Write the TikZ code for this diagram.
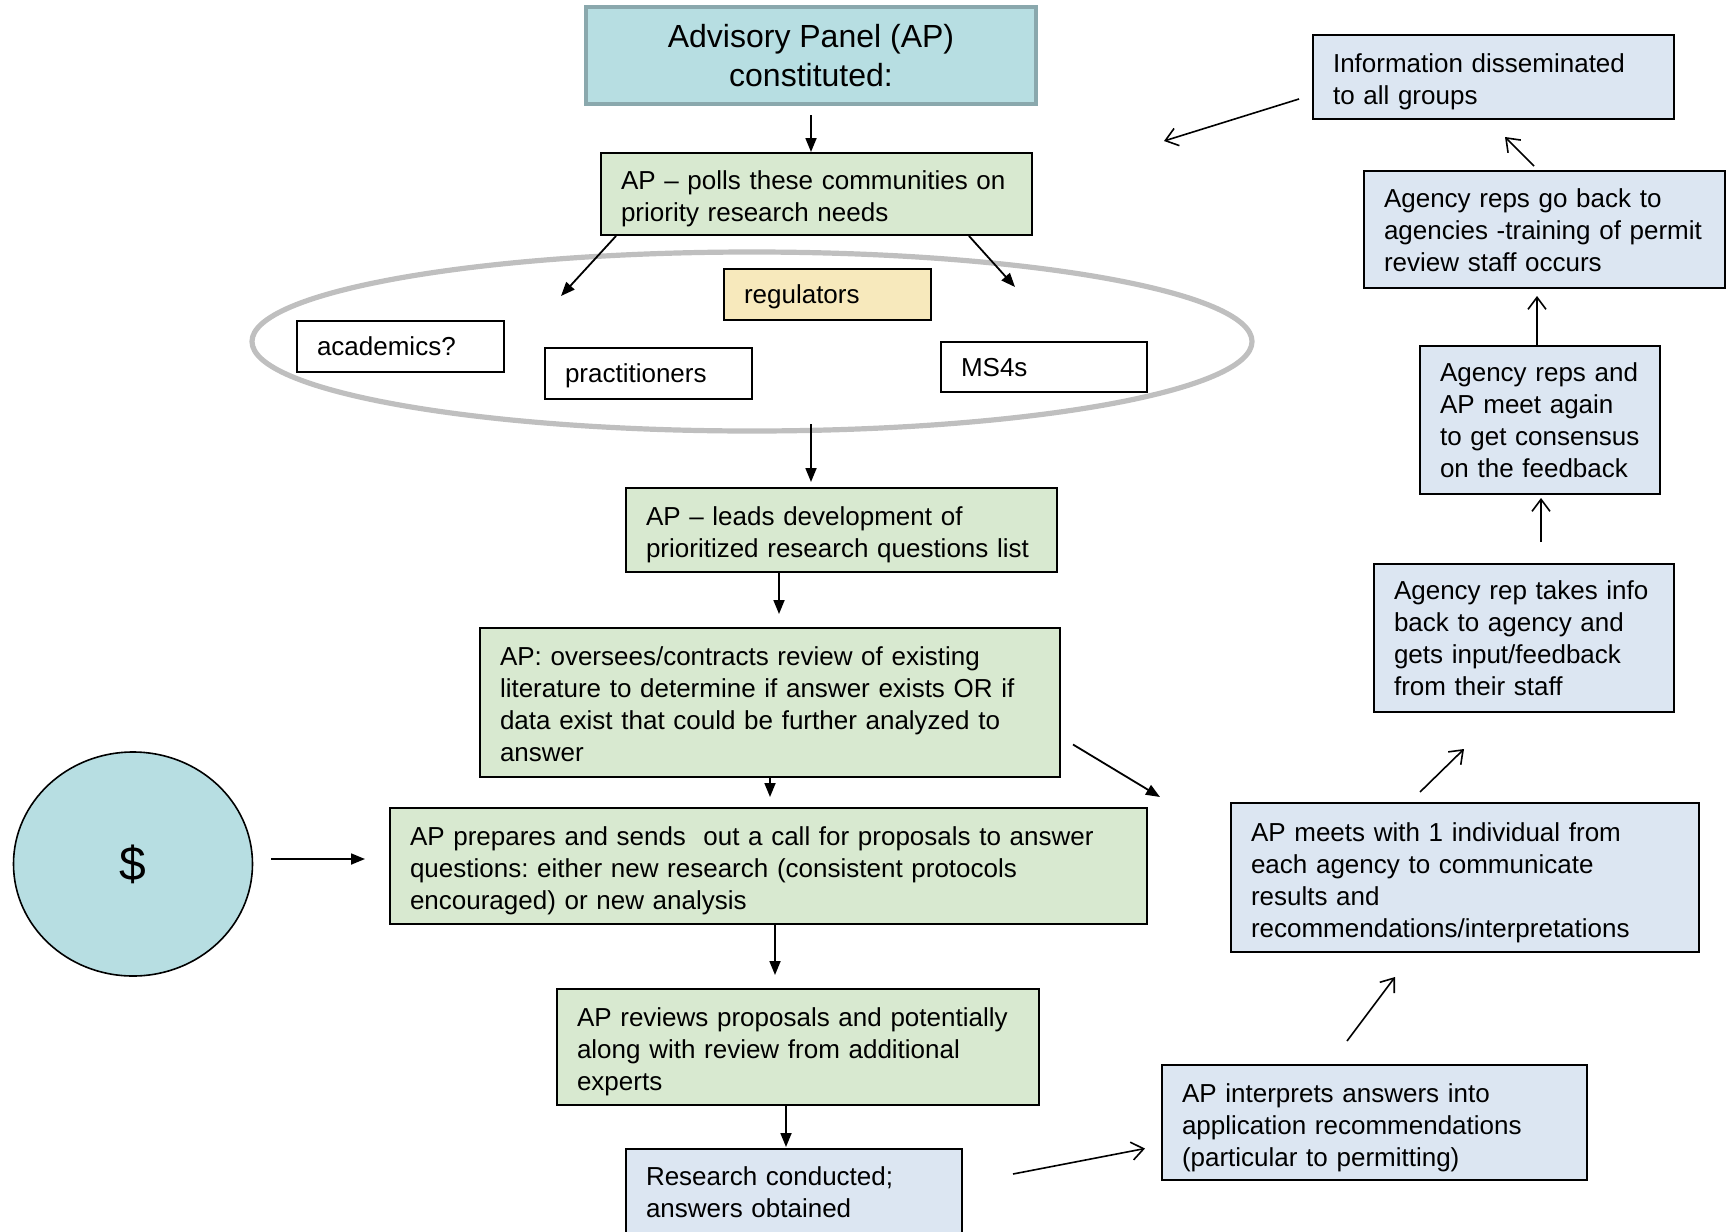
\documentclass[tikz,border=0pt]{standalone}
\usepackage{fontspec}
\setmainfont{Liberation Sans}
\usetikzlibrary{arrows.meta,shapes.geometric}
\definecolor{apfill}{RGB}{183,222,226}
\definecolor{apdraw}{RGB}{138,168,173}
\definecolor{gfill}{RGB}{216,233,208}
\definecolor{bfill}{RGB}{220,230,242}
\definecolor{yfill}{RGB}{247,233,188}
\definecolor{ellgray}{RGB}{191,191,191}
\frenchspacing
\begin{document}
\begin{tikzpicture}[x=0.5pt,y=-0.5pt,
  every node/.style={font=\fontsize{13}{16}\selectfont},
  box/.style={draw=black, line width=1pt, align=left, inner xsep=10pt, inner ysep=0pt},
  sh/.style={execute at end node={\vspace{#1}}},
  sh/.default=-5pt,
  gbox/.style={box, fill=gfill},
  bbox/.style={box, fill=bfill},
  wbox/.style={box, fill=white},
  fa/.style={-{Triangle[length=7pt,width=5.5pt]}, line width=0.9pt},
  oa/.style={-{Straight Barb[length=6pt,width=9pt]}, line width=0.8pt},
]
\useasboundingbox (0,0) rectangle (1733,1231);

% title
\node[draw=apdraw, fill=apfill, line width=2.2pt, minimum width=225pt, minimum height=48.5pt,
      align=center, font=\fontsize{16}{19.5}\selectfont] (ap) at (811,55.5) {Advisory Panel (AP)\\constituted:};

\node[gbox, sh, minimum width=215.5pt, minimum height=41pt, text width=195.5pt] (polls) at (816.5,194)
  {AP – polls these communities on\\priority research needs};

% group ellipse
\node[ellipse, draw=ellgray, line width=2.6pt, minimum width=500pt, minimum height=89.5pt, inner sep=0pt] (grp) at (752,341.5) {};
\node[box, sh=-7.2pt, fill=yfill, minimum width=103.5pt, minimum height=25.5pt, text width=83.5pt] (reg) at (827.5,294.5) {regulators};
\node[wbox, sh, minimum width=103.5pt, minimum height=25.5pt, text width=83.5pt] (acad) at (400.5,346.5) {academics?};
\node[wbox, sh, minimum width=103.5pt, minimum height=25.5pt, text width=83.5pt] (prac) at (648.5,373.5) {practitioners};
\node[wbox, sh, minimum width=103pt, minimum height=25pt, text width=83pt] (ms4) at (1044,367) {MS4s};

% left column
\node[gbox, sh, minimum width=215.5pt, minimum height=42pt, text width=195.5pt] (leads) at (841.5,530)
  {AP – leads development of\\prioritized research questions list};
\node[gbox, sh=-1.7pt, minimum width=290pt, minimum height=74.5pt, text width=270pt] (over) at (770,702.5)
  {AP: oversees/contracts review of existing\\literature to determine if answer exists OR if\\data exist that could be further analyzed to\\answer};
\node[gbox, sh, minimum width=378.5pt, minimum height=58pt, text width=358.5pt] (prep) at (768.5,866)
  {AP prepares and sends~ out a call for proposals to answer\\questions: either new research (consistent protocols\\encouraged) or new analysis};
\node[gbox, sh, minimum width=241pt, minimum height=58pt, text width=221pt] (rev) at (798,1047)
  {AP reviews proposals and potentially\\along with review from additional\\experts};
\node[bbox, sh=-0.6pt, minimum width=168pt, minimum height=43pt, text width=148pt] (res) at (794,1192)
  {Research conducted;\\answers obtained};

\node[ellipse, draw=black, fill=apfill, line width=0.8pt, minimum width=119.5pt, minimum height=112pt,
      font=\fontsize{24}{28}\selectfont] (money) at (133,864) {\$};

% right column
\node[bbox, sh, minimum width=212.5pt, minimum height=57.5pt, text width=192.5pt] (interp) at (1374.5,1122.5)
  {AP interprets answers into\\application recommendations\\(particular to permitting)};
\node[bbox, sh, minimum width=234pt, minimum height=74.5pt, text width=214pt] (meets) at (1465,877.5)
  {AP meets with 1 individual from\\each agency to communicate\\results and\\recommendations/interpretations};
\node[bbox, sh=-0.6pt, minimum width=150pt, minimum height=74pt, text width=130pt] (takes) at (1524,638)
  {Agency rep takes info\\back to agency and\\gets input/feedback\\from their staff};
\node[bbox, sh=-0.6pt, minimum width=120pt, minimum height=74pt, text width=100pt] (again) at (1540,420)
  {Agency reps and\\AP meet again\\to get consensus\\on the feedback};
\node[bbox, sh=-0.6pt, minimum width=180.5pt, minimum height=58.5pt, text width=160.5pt] (reps) at (1544.5,229.5)
  {Agency reps go back to\\agencies -training of permit\\review staff occurs};
\node[bbox, sh, minimum width=180.5pt, minimum height=42pt, text width=160.5pt] (info) at (1493.5,77)
  {Information disseminated\\to all groups};

% coordinates for free ends
\coordinate (p1) at (561,296);
\coordinate (p2) at (1015,287);
\coordinate (e1) at (811,424);
\coordinate (c5) at (779,614);
\coordinate (c6) at (770,797);
\coordinate (c7) at (365,859);
\coordinate (c8) at (775,975);
\coordinate (c9) at (786,1147);
\coordinate (c10) at (1160,797);
\coordinate (c12s) at (1347,1041);
\coordinate (c12) at (1395,977);
\coordinate (c13s) at (1420,792);
\coordinate (c13) at (1464,749);
\coordinate (c14) at (1541,542);
\coordinate (c15) at (1537,296);
\coordinate (c16s) at (1534,166);
\coordinate (c16) at (1505,137);
\coordinate (c17) at (1164,141);

% filled arrows
\draw[fa] ([yshift=-4.5pt]ap.south) -- (ap.south |- polls.north);
\draw[fa] ([xshift=8pt]polls.south west) -- (p1);
\draw[fa] ([xshift=-32pt]polls.south east) -- (p2);
\draw[fa] (e1) -- ([yshift=2.5pt]e1 |- leads.north);
\draw[fa] (leads.south -| c5) -- (c5);
\draw[fa] (over.south -| c6) -- (c6);
\draw[fa] ([xshift=9pt,yshift=2.5pt]money.east) -- (c7);
\draw[fa] (prep.south -| c8) -- (c8);
\draw[fa] (rev.south -| c9) -- (c9);
\draw[fa] ([xshift=6pt,yshift=-21pt]over.east) -- (c10);

% open arrows
\draw[oa] ([xshift=25pt,yshift=9pt]res.east) -- ([xshift=-8pt,yshift=-13pt]interp.west);
\draw[oa] (c12s) -- (c12);
\draw[oa] (c13s) -- (c13);
\draw[oa] (c14) -- ([yshift=-1.5pt]c14 |- again.south);
\draw[oa] (again.north -| c15) -- (c15);
\draw[oa] (c16s) -- (c16);
\draw[oa] ([xshift=-6.5pt,yshift=-11pt]info.west) -- (c17);
\end{tikzpicture}
\end{document}
